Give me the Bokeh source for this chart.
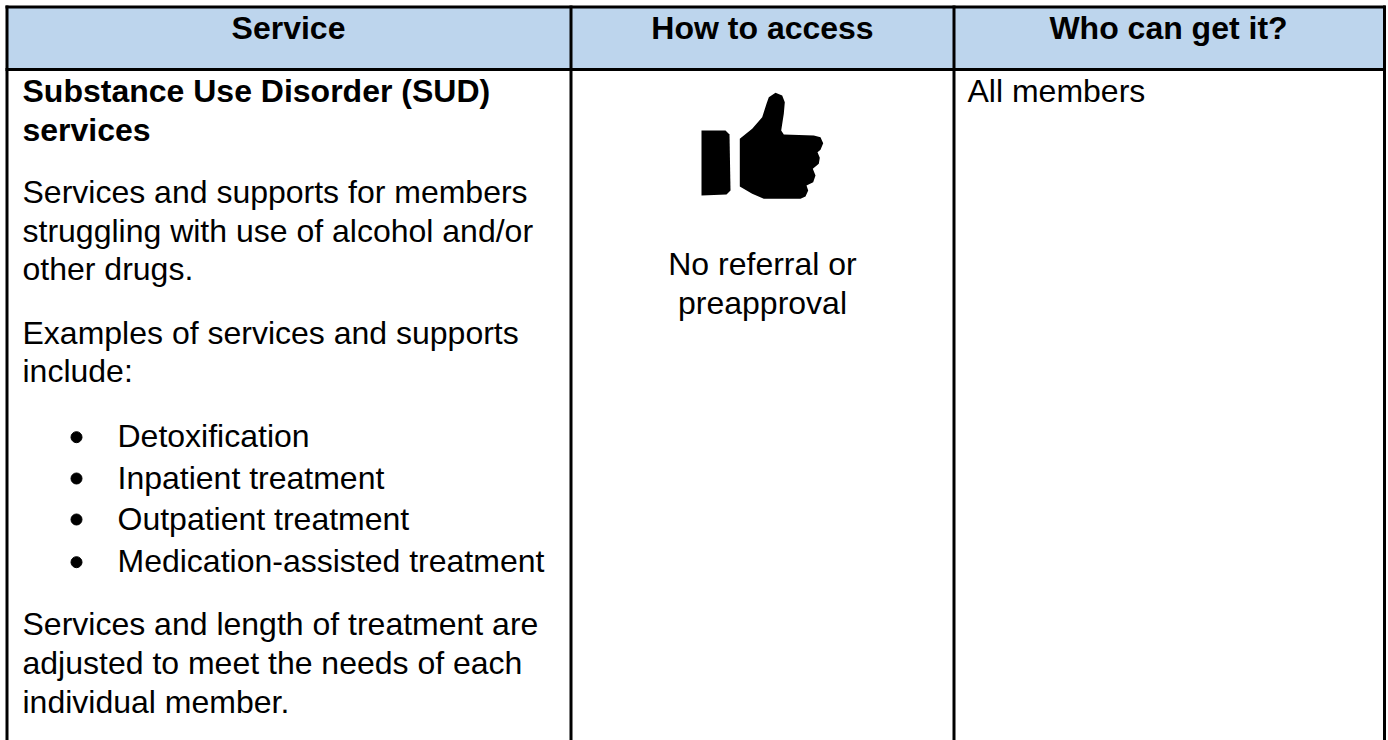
from bokeh.plotting import figure
from bokeh.models import Range1d
from bokeh.core.properties import value
from bokeh.embed import file_html
from bokeh.resources import INLINE

W, H = 1388, 740
FONT = "Liberation Sans"
HEAD_BG = "#bdd5ed"

headers = ["Service", "How to access", "Who can get it?"]
header_x = [288, 762, 1168]
header_y = 27

left_lines = [
    ("Substance Use Disorder (SUD)", 90, "bold"),
    ("services", 129.5, "bold"),
    ("Services and supports for members", 191, "normal"),
    ("struggling with use of alcohol and/or", 230, "normal"),
    ("other drugs.", 268.5, "normal"),
    ("Examples of services and supports", 332, "normal"),
    ("include:", 370.5, "normal"),
    ("Services and length of treatment are", 623, "normal"),
    ("adjusted to meet the needs of each", 662, "normal"),
    ("individual member.", 701, "normal"),
]
bullets = ["Detoxification", "Inpatient treatment", "Outpatient treatment", "Medication-assisted treatment"]
bullet_text_y = [435, 477, 518, 560]
bullet_dot_y = [436.7, 478, 519, 561.7]

center_lines = [("No referral or", 263), ("preapproval", 302)]
right_lines = [("All members", 90)]

cuff_x = [701, 725, 729, 730, 726, 701]
cuff_y = [130, 130, 134, 190, 194, 195]
hand_x = [739.3, 751.7, 761.7, 766, 768.3, 775, 781.7, 784.3, 783.3, 780.7, 783.3, 813.3, 820, 822.7, 820, 817,
          819.3, 818.3, 812.3, 815, 812.7, 806, 807.7, 805, 800, 763.3, 751.7, 739.3]
hand_y = [138.3, 128.3, 116.7, 103.3, 96.7, 92.3, 95, 101.7, 113.3, 130, 134, 135, 136.7, 142.7, 149.3, 151.7,
          157.3, 163.3, 168.3, 175, 181.7, 185, 190, 196, 198.3, 198.3, 193.3, 186]

p = figure(width=W, height=H, output_backend="svg", toolbar_location=None,
           x_range=Range1d(0, W), y_range=Range1d(H, 0), min_border=0,
           margin=(0, 0, 0, 0))
p.axis.visible = False
p.grid.visible = False
p.outline_line_color = None
p.background_fill_color = "white"

p.quad(left=[6], right=[1384], top=[6], bottom=[69], fill_color=HEAD_BG, line_color=None)
p.multi_line(xs=[[5, 1385], [5, 1385], [6.5, 6.5], [570.5, 570.5], [953.5, 953.5], [1384, 1384]],
             ys=[[6.5, 6.5], [69, 69], [5, 740], [5, 740], [5, 740], [5, 740]],
             line_color="black", line_width=3)

def txt(xs, ys, texts, style="normal", align="left"):
    p.text(x=xs, y=ys, text=texts, text_font=value(FONT), text_font_size=value("32px"),
           text_font_style=style, text_align=align, text_baseline="middle", text_color="black")

txt(header_x, [header_y] * 3, headers, "bold", "center")
for t, y, st in left_lines:
    txt([22], [y], [t], st)
txt([117] * 4, bullet_text_y, bullets)
p.scatter(x=[76] * 4, y=bullet_dot_y, size=11, color="black")
for t, y in center_lines:
    txt([762], [y], [t], "normal", "center")
for t, y in right_lines:
    txt([967], [y], [t])

p.patch(cuff_x, cuff_y, color="black", line_color=None)
p.patch(hand_x, hand_y, color="black", line_color=None)

open("out.html", "w").write(file_html(p, INLINE))
